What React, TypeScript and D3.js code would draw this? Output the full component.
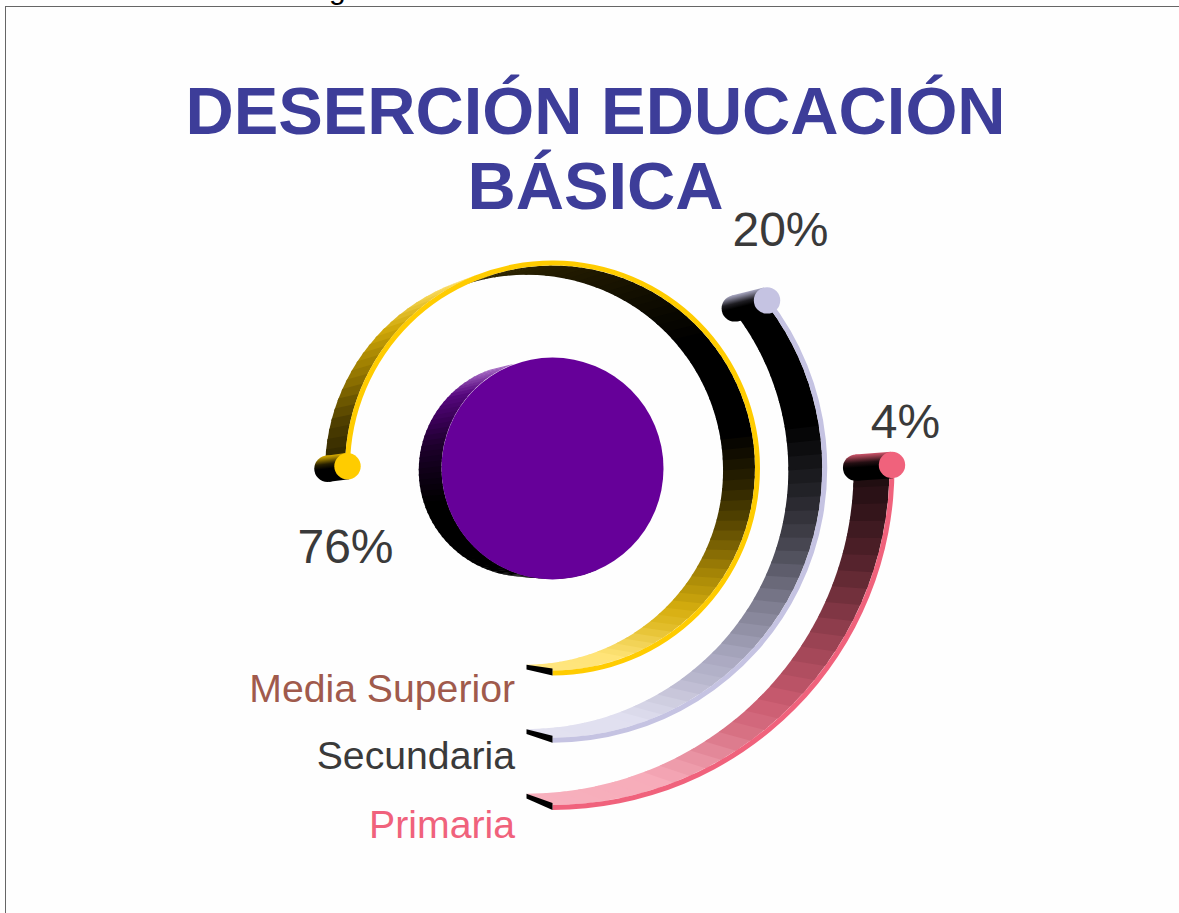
import React from "react";
import * as d3 from "d3";

const categories = ["Media Superior", "Secundaria", "Primaria"];
const values = [76, 20, 4];
const valueLabels = ["76%", "20%", "4%"];
const baseColors = ["#FFCC00", "#C5C3E2", "#F0627C"];
const labelColors = ["#A05A4C", "#3A3A3A", "#F0627C"];
const titleLines = ["DESERCIÓN EDUCACIÓN", "BÁSICA"];

const W = 1179, H = 913;
const cx = 552.5, cy = 468;
const RING = 5, CAP_R = 13.2, HUB_R = 111;
const BAND = 3;

const radius = d3.scalePoint<string>().domain(categories).range([207.5, 342]);
const sweep = d3.scaleLinear().domain([4, 20, 76]).range([90.5, 128, 269.5]);

// wall shading by angle: how much of the base colour (k) and of white (w) is in the mix
const innerAngles = [0, 20, 30, 37, 45, 60, 75, 85, 100, 130, 153, 190, 200];
const innerK = d3.scaleLinear().domain(innerAngles)
  .range([0.5, 0.53, 0.62, 0.72, 0.78, 0.6, 0.33, 0.18, 0, 0, 0.08, 0.18, 0.2]).clamp(true);
const innerW = d3.scaleLinear().domain(innerAngles)
  .range([0.5, 0.47, 0.32, 0.17, 0.06, 0.02, 0, 0, 0, 0, 0, 0, 0]).clamp(true);
const outerAngles = [200, 212, 227, 244, 257, 270, 288];
const outerK = d3.scaleLinear().domain(outerAngles)
  .range([0.55, 0.65, 0.78, 0.55, 0.3, 0.16, 0]).clamp(true);
const outerW = d3.scaleLinear().domain(outerAngles)
  .range([0.45, 0.3, 0.03, 0, 0, 0, 0]).clamp(true);

const shade = (base: string, k: number, w: number) => {
  const c = d3.rgb(base);
  return d3.rgb(c.r * k + 255 * w, c.g * k + 255 * w, c.b * k + 255 * w).formatHex();
};

const rad = (deg: number) => (deg * Math.PI) / 180;
const front = (deg: number, r: number): [number, number] => [
  cx + r * Math.sin(rad(deg)),
  cy + r * Math.cos(rad(deg)),
];
const back = ([x, y]: [number, number]): [number, number] => [
  x - 26 - 0.029 * (x - cx),
  y + 2.5 - (y > cy ? 0.041 : 0.033) * (y - cy),
];
const poly = d3.line();

function Wall({ base, r, from, to, step, side }: any) {
  const quads = [];
  for (let a = from; a < to - 1e-6; a += step) {
    const b = Math.min(a + step, to);
    const mid = (a + b) / 2;
    const useOuter = side === "outer" || (side === "auto" && mid >= 200);
    const rr = useOuter ? r : r - RING;
    // each band laps a little over the next so no seam shows
    const lap = Math.min(b + 0.8, to);
    const f1 = front(a, rr), f2 = front(lap, rr);
    const color = useOuter
      ? shade(base, outerK(mid), outerW(mid))
      : shade(base, innerK(mid), innerW(mid));
    quads.push(
      <path key={a} d={poly([f1, f2, back(f2), back(f1)]) as string} fill={color} />
    );
  }
  return <g>{quads}</g>;
}

function Bar({ i }: { i: number }) {
  const name = categories[i];
  const base = baseColors[i];
  const r = radius(name) as number;
  const end = sweep(values[i]);
  const ring = d3.arc()({
    innerRadius: r - RING,
    outerRadius: r,
    startAngle: Math.PI,
    endAngle: Math.PI - rad(end),
  }) as string;
  const capF = front(end, r - RING / 2);
  const capB = back(capF);
  const dx = capF[0] - capB[0], dy = capF[1] - capB[1];
  const len = Math.hypot(dx, dy);
  const nx = -dy / len, ny = dx / len;
  const sign = ny < 0 ? 1 : -1; // gradient runs from the upper side down
  const gx = nx * sign * CAP_R, gy = ny * sign * CAP_R;
  const gid = `cap${i}`;
  const capPoly: [number, number][] = [
    [capF[0] + gx, capF[1] + gy],
    [capB[0] + gx, capB[1] + gy],
    [capB[0] - gx, capB[1] - gy],
    [capF[0] - gx, capF[1] - gy],
  ];
  const o1 = front(0, r - 7), o2 = front(0, r), o3 = front(0, r - 5);
  return (
    <g>
      <Wall base={base} r={r} from={0} to={end} step={BAND} side="auto" />
      <path d={ring} transform={`translate(${cx},${cy})`} fill={base} />
      <path d={poly([o1, o2, back(o2), back(o3)]) as string} fill="#000" />
      <defs>
        <linearGradient id={gid} gradientUnits="userSpaceOnUse"
          x1={capB[0] + gx} y1={capB[1] + gy} x2={capB[0] - gx} y2={capB[1] - gy}>
          <stop offset="0" stopColor={shade(base, 0.85, 0)} />
          <stop offset="0.12" stopColor={shade(base, 0.6, 0)} />
          <stop offset="0.32" stopColor={shade(base, 0.15, 0)} />
          <stop offset="0.5" stopColor="#000" />
          <stop offset="1" stopColor="#000" />
        </linearGradient>
      </defs>
      <circle cx={capB[0]} cy={capB[1]} r={CAP_R} fill={`url(#${gid})`} />
      <path d={poly(capPoly) as string} fill={`url(#${gid})`} />
      <circle cx={capF[0]} cy={capF[1]} r={CAP_R} fill={base} />
    </g>
  );
}

const valuePos: [number, number][] = [[345.5, 563], [780.5, 246], [905.5, 438]];
const labelY = [702, 769, 838];

export default function App() {
  const font = "'Liberation Sans', Arial, sans-serif";
  return (
    <svg width={W} height={H} viewBox={`0 0 ${W} ${H}`}
      style={{ position: "fixed", left: 0, top: 0, display: "block", background: "#fff" }}>
      <rect x={5.5} y={6.5} width={W} height={H} fill="#fefefe" stroke="#666" strokeWidth={1} />
      <text x={329} y={-1} fontFamily={font} fontSize={30} fill="#000">g</text>

      {titleLines.map((t, i) => (
        <text key={t} x={595.5} y={134 + i * 75} textAnchor="middle" fontFamily={font}
          fontWeight={700} fontSize={66.8} fill="#3D3D99">{t}</text>
      ))}

      <Wall base="#660099" r={HUB_R} from={200} to={384} step={BAND} side="outer" />
      <circle cx={cx} cy={cy + 0.5} r={HUB_R} fill="#660099" />

      {categories.map((c, i) => <Bar key={c} i={i} />)}

      {valueLabels.map((t, i) => (
        <text key={t} x={valuePos[i][0]} y={valuePos[i][1]} textAnchor="middle" fontFamily={font}
          fontSize={48} fill="#3A3A3A">{t}</text>
      ))}
      {categories.map((c, i) => (
        <text key={c} x={515} y={labelY[i]} textAnchor="end" fontFamily={font}
          fontSize={39.2} fill={labelColors[i]}>{c}</text>
      ))}
    </svg>
  );
}
